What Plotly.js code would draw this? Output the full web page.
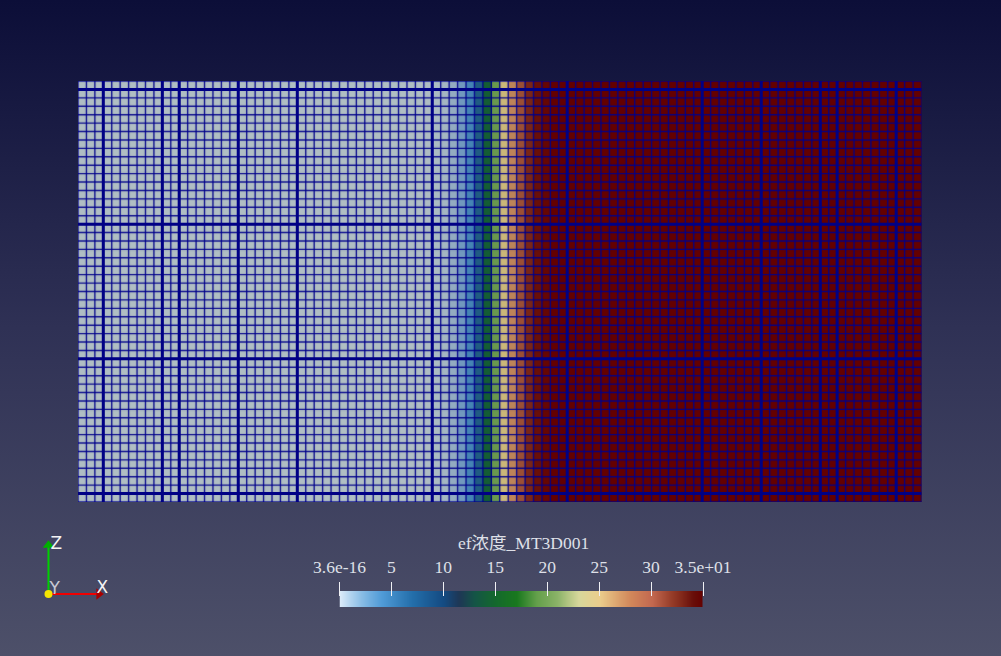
<!DOCTYPE html>
<html><head><meta charset="utf-8">
<script src="https://cdn.plot.ly/plotly-3.0.1.min.js"></script>
<style>
html,body{margin:0;padding:0;width:1001px;height:656px;overflow:hidden;background:linear-gradient(to bottom,#0c0e38 0%,#2f3155 50%,#4d5069 100%);}
#c{width:1001px;height:656px;}
</style></head><body><div id="c"></div>
<script>
// Model columns (edge indices along X) and rows (edge indices along Z)
const columnNodes=[0,1,2,3,4,5,6,7,8,9,10,11,12,13,14,15,16,17,18,19,20,21,22,23,24,25,26,27,28,29,30,31,32,33,34,35,36,37,38,39,40,41,42,43,44,45,46,47,48,49,50,51,52,53,54,55,56,57,58,59,60,61,62,63,64,65,66,67,68,69,70,71,72,73,74,75,76,77,78,79,80,81,82,83,84,85,86,87,88,89,90,91,92,93,94,95,96,97,98,99,100];
const rowNodes=[0,1,2,3,4,5,6,7,8,9,10,11,12,13,14,15,16,17,18,19,20,21,22,23,24,25,26,27,28,29,30,31,32,33,34,35,36,37,38,39,40,41,42,43,44,45,46,47,48,49,50];
const thickColumns=[3,10,12,19,26,42,58,74,81,88,90,97];
const thickRows=[1,17,33,49];
// Concentration of each column cell
const concentration=[0,0,0,0,0,0,0,0,0,0,0,0,0,0,0,0,0,0,0,0,0,0,0,0,0,0,0,0,0,0,0,0,0,0,0,0,0,0,0,0,0,0.1,0.2,0.5,1.2,2.6,4.6,8.5,14.5,19.5,24,28,31,33,34,34.6,35,35,35,35,35,35,35,35,35,35,35,35,35,35,35,35,35,35,35,35,35,35,35,35,35,35,35,35,35,35,35,35,35,35,35,35,35,35,35,35,35,35,35,35];
// Colour map
const stopValues=[0,2,4,5,7,10,11.5,13,15,17,19,21,23,25,28,30,32,34,35];
const barColors=['#dcebfa','#8cbee6','#509bd7','#418cc8','#236eaa','#144b82','#1e3755','#145546','#14692d','#19781e','#64a04b','#8cb469','#d7d79b','#ebcd8c','#d2875a','#c36950','#963c28','#690f0a','#640000'];
const cellColors=['#b0bec3','#7f9fc0','#4f8ab8','#3f80b2','#24648f','#1c5474','#1a4a5a','#155340','#146030','#1a6e22','#5f9448','#86a55f','#c9bd7e','#ccb072','#bd8458','#ab6446','#8a3a24','#6a0f08','#640000'];
const barTicks=[0,5,10,15,20,25,30,35];
const barTickLabels=['3.6e-16','5','10','15','20','25','30','3.5e+01'];
const barScaleValues=[0,1,2,3,4,5,6,7,8,9,10,11,12,13,14,15,16,17,18,19,20,21,22,23,24,25,26,27,28,29,30,31,32,33,34,35];
const barTitle='ef浓度_MT3D001';
// Orientation triad (unit axis vectors)
const triadLabels=['X','Y','Z'];

const W=1001,H=656;
const scale=(colors)=>stopValues.map((v,i)=>[v/35,colors[i]]);
function vLines(cols){const x=[],y=[];cols.forEach(c=>{x.push(c,c,null);y.push(0,50,null);});return{x,y};}
function hLines(rows){const x=[],y=[];rows.forEach(r=>{x.push(0,100,null);y.push(r,r,null);});return{x,y};}
function gridTrace(g,width,color){return{type:'scatter',mode:'lines',x:g.x,y:g.y,line:{color:color,width:width},hoverinfo:'skip',showlegend:false,connectgaps:false};}

const textColor='#dfe0e8';
const serif='"Liberation Serif","Noto Sans CJK SC",serif';
const traces=[
 {type:'heatmap',x:columnNodes,y:[0,50],z:[concentration],zmin:0,zmax:35,colorscale:scale(cellColors),showscale:false,hoverinfo:'skip'},
 gridTrace(vLines(columnNodes),3.5,'rgba(0,0,139,0.08)'),
 gridTrace(hLines(rowNodes),3.5,'rgba(0,0,139,0.08)'),
 gridTrace(vLines(columnNodes),1.4,'rgba(0,0,139,0.78)'),
 gridTrace(hLines(rowNodes),1.4,'rgba(0,0,139,0.78)'),
 gridTrace(vLines(thickColumns),3,'#000085'),
 gridTrace(hLines(thickRows),3,'#000085'),
 {type:'heatmap',xaxis:'x2',yaxis:'y2',x:barScaleValues,y:[0,1],z:[barScaleValues,barScaleValues],
  zmin:0,zmax:35,colorscale:scale(barColors),zsmooth:'best',showscale:false,hoverinfo:'skip'},
 {type:'scatter',mode:'lines',xaxis:'x3',yaxis:'y3',x:[0,0],y:[0,0.9],line:{color:'#00d000',width:2},hoverinfo:'skip'},
 {type:'scatter',mode:'lines',xaxis:'x3',yaxis:'y3',x:[0,0.9],y:[0,0],line:{color:'#f00000',width:2},hoverinfo:'skip'},
 {type:'scatter',mode:'markers',xaxis:'x3',yaxis:'y3',x:[0],y:[0.87],marker:{symbol:'triangle-up',size:10,color:'#00b000',line:{width:0}},hoverinfo:'skip'},
 {type:'scatter',mode:'markers',xaxis:'x3',yaxis:'y3',x:[0.9],y:[0],marker:{symbol:'triangle-right',size:10,color:'#a80000',line:{width:0}},hoverinfo:'skip'},
 {type:'scatter',mode:'markers',xaxis:'x3',yaxis:'y3',x:[0],y:[0],marker:{symbol:'circle',size:8,color:'#f5e600',line:{width:0}},hoverinfo:'skip'},
 {type:'scatter',mode:'text',xaxis:'x3',yaxis:'y3',x:[0.96,0.11,0.14],y:[0.1,0.08,0.88],text:triadLabels,textposition:'middle center',
  textfont:{family:'"DejaVu Sans",sans-serif',size:17,color:['#f4f4f4','#c8c8d4','#f4f4f4']},hoverinfo:'skip'}
];
const hidden={visible:false,showgrid:false,zeroline:false,fixedrange:true};
const layout={
 width:W,height:H,margin:{l:0,r:0,t:0,b:0,pad:0},paper_bgcolor:'rgba(0,0,0,0)',plot_bgcolor:'rgba(0,0,0,0)',showlegend:false,hovermode:false,
 xaxis:{...hidden,domain:[78/W,921.5/W],range:[0,100]},
 yaxis:{...hidden,domain:[1-502/H,1-81/H],range:[50,0]},
 xaxis2:{domain:[339.5/W,703/W],range:[0,35],anchor:'free',position:(H-596)/H,side:'top',tickmode:'array',tickvals:barTicks,ticktext:barTickLabels,ticks:'outside',ticklen:14,tickwidth:1,tickcolor:'#f0f0f4',showline:false,showgrid:false,zeroline:false,tickfont:{family:serif,size:17.5,color:textColor},ticklabelstandoff:2,fixedrange:true,tickangle:0},
 yaxis2:{...hidden,domain:[(H-607)/H,(H-591)/H],range:[0,1],anchor:'x2'},
 xaxis3:{...hidden,domain:[30/W,120/W],range:[-0.33,1.277],anchor:'y3'},
 yaxis3:{...hidden,domain:[(H-605)/H,(H-530)/H],range:[-0.196,1.143],anchor:'x3'},
 annotations:[{xref:'paper',yref:'paper',x:523/W,y:(H-543)/H,text:barTitle,showarrow:false,xanchor:'center',yanchor:'middle',font:{family:serif,size:17.5,color:textColor}}]
};
Plotly.newPlot('c',traces,layout,{displayModeBar:false,staticPlot:true});
</script></body></html>
